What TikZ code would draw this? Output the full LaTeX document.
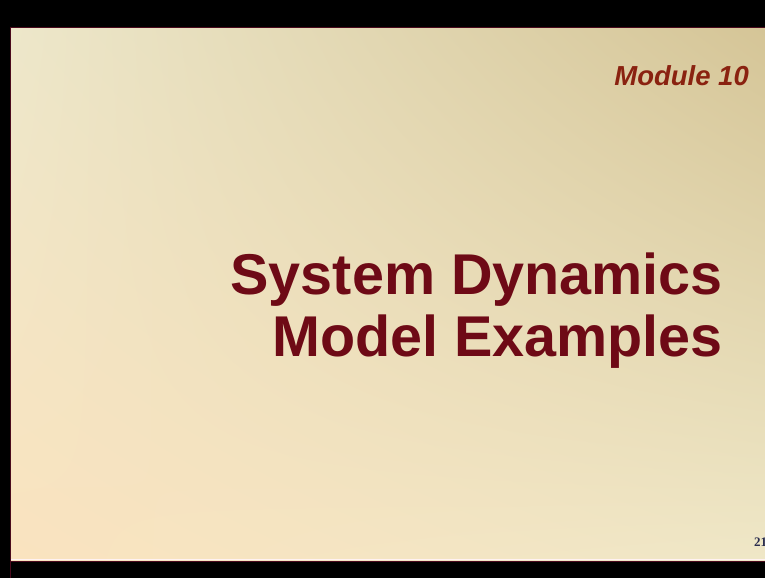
\documentclass[tikz,border=0pt]{standalone}
\usepackage{fontspec}
\usetikzlibrary{shadings}
\setmainfont{Liberation Sans}
\newfontfamily\slidenumfont{Liberation Serif}
\definecolor{titlered}{HTML}{6E0A16}
\definecolor{modred}{HTML}{8A2210}
\definecolor{framemaroon}{HTML}{4A0A1C}
\definecolor{numblue}{HTML}{2B2D4F}
\definecolor{bgUL}{HTML}{EDE7CA}
\definecolor{bgUR}{HTML}{D5C597}
\definecolor{bgLL}{HTML}{FAE3BF}
\definecolor{bgLR}{HTML}{EFE7C7}
\tikzset{
  titletext/.style={anchor=base east, inner sep=0pt, text=titlered,
    font=\fontsize{57.5}{68}\selectfont\bfseries},
  moduletext/.style={anchor=base east, inner sep=0pt, text=modred,
    font=\fontsize{27.5}{32}\selectfont\bfseries\itshape},
  pagenum/.style={anchor=base west, inner sep=0pt, text=numblue,
    font=\slidenumfont\fontsize{13}{15}\selectfont\bfseries},
}
\begin{document}
\begin{tikzpicture}[x=1pt,y=-1pt]
  \useasboundingbox (0,0) rectangle (765,578);
  % black surround
  \fill[black] (0,0) rectangle (765,578);
  % slide background
  \shade[upper left=bgUL, upper right=bgUR, lower left=bgLL, lower right=bgLR]
    (11,28) rectangle (765,560);
  % thin maroon frame edges
  \draw[framemaroon, line width=1.6pt] (10.5,578) -- (10.5,27.5) -- (765,27.5);
  \draw[framemaroon, line width=1.6pt] (10.5,561.5) -- (765,561.5);
  \draw[white!80!pink, line width=0.8pt] (11,559.8) -- (765,559.8);
  % texts
  \node[moduletext] (module) at (749,85.5) {Module 10};
  \node[titletext] (line1) at (723,294.5) {System Dynamics};
  \node[titletext] (line2) at (723,356.5) {Model Examples};
  \node[pagenum] (num) at (754,546) {21};
\end{tikzpicture}
\end{document}
